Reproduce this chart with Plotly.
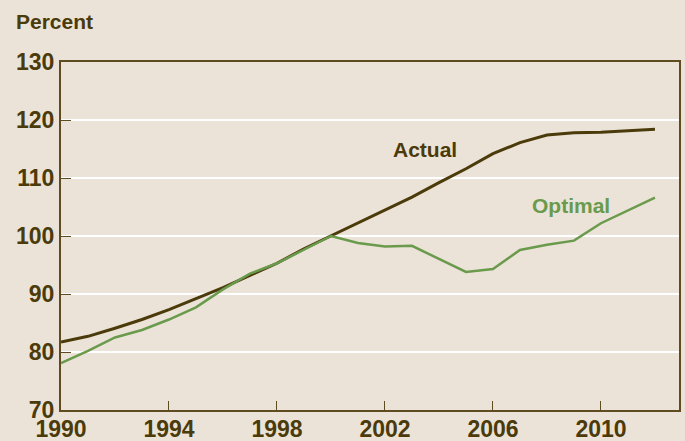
import plotly.graph_objects as go

years = list(range(1990, 2013))
actual = [81.7, 82.7, 84.1, 85.6, 87.3, 89.2, 91.1, 93.2, 95.3, 97.8, 100.0,
          102.2, 104.4, 106.7, 109.2, 111.6, 114.2, 116.1, 117.4, 117.8, 117.9, 118.1, 118.4]
optimal = [78.1, 80.2, 82.5, 83.8, 85.6, 87.7, 90.8, 93.5, 95.3, 97.7, 100.0,
           98.8, 98.2, 98.3, 96.0, 93.8, 94.3, 97.6, 98.5, 99.2, 102.2, 104.4, 106.6]
x_ticks = [1990, 1994, 1998, 2002, 2006, 2010]
y_ticks = [70, 80, 90, 100, 110, 120, 130]

BG = "#ebe3d7"
DARK = "#4b3a0a"
AXIS = "#5e4c20"
GREEN = "#6a9a4c"
FONT = "Liberation Sans"

fig = go.Figure()
fig.add_trace(go.Scatter(x=years, y=actual, mode="lines", line=dict(color=DARK, width=3), hoverinfo="skip"))
fig.add_trace(go.Scatter(x=years, y=optimal, mode="lines", line=dict(color=GREEN, width=2.5), hoverinfo="skip"))

fig.add_annotation(x=2003.5, y=115.0, text="Actual", showarrow=False,
                   font=dict(family=FONT, size=21, color=DARK, weight="bold"))
fig.add_annotation(x=2008.88, y=105.3, text="Optimal", showarrow=False,
                   font=dict(family=FONT, size=21, color=GREEN, weight="bold"))
fig.add_annotation(xref="paper", yref="paper", x=-47/618, y=1 + 40/347.5, xanchor="left", yanchor="middle",
                   text="Percent", showarrow=False,
                   font=dict(family=FONT, size=21, color=DARK, weight="bold"))

fig.update_layout(
    width=685, height=441,
    margin=dict(l=61, r=6, t=62, b=31, autoexpand=False),
    paper_bgcolor=BG, plot_bgcolor=BG,
    showlegend=False,
)
fig.update_xaxes(range=[1990, 2012.89], tickvals=x_ticks, ticks="inside", ticklen=9, tickcolor=AXIS,
                 showgrid=False, showline=True, linecolor=AXIS, linewidth=2, mirror=True, automargin=False,
                 ticklabelstandoff=-3,
                 tickfont=dict(family=FONT, size=23, color=DARK, weight="bold"), zeroline=False)
fig.update_yaxes(range=[70, 130], tickvals=y_ticks, ticks="inside", ticklen=10, tickcolor=AXIS,
                 showgrid=True, gridcolor="#ffffff", gridwidth=1.5, automargin=False,
                 showline=True, linecolor=AXIS, linewidth=2, mirror=True,
                 tickfont=dict(family=FONT, size=23, color=DARK, weight="bold"), zeroline=False)

fig.write_html("out.html", config={"displayModeBar": False},
               post_script="document.body.style.margin='0';document.body.style.background='%s';" % BG)
